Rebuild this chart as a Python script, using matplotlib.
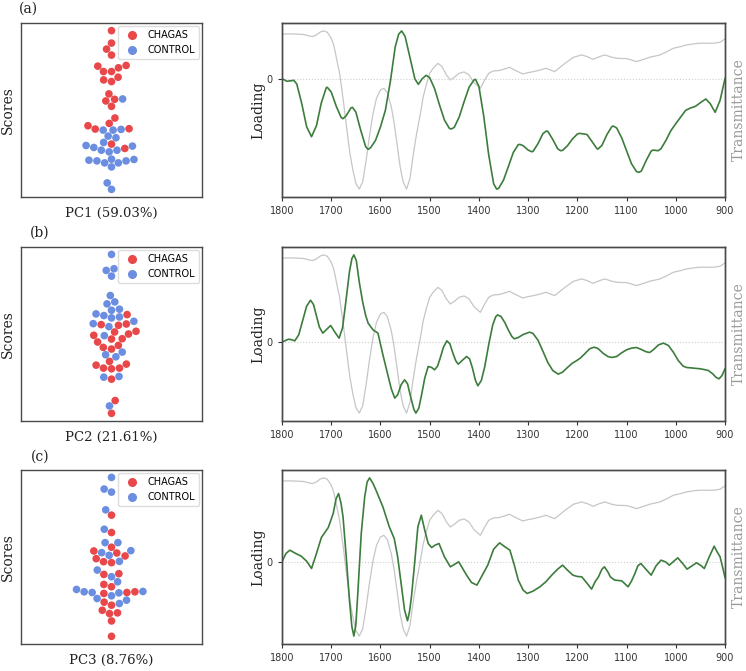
import numpy as np
import matplotlib
matplotlib.use("Agg")
import matplotlib.pyplot as plt
from matplotlib.lines import Line2D
import seaborn as sns

RED = "#e8484a"
BLUE = "#6b8ee0"
GREEN = "#3c7c3c"
GREY = "#c6c6c6"
SPINE = "#4a4a4a"
SERIF = "DejaVu Serif"

groups = ["CHAGAS", "CONTROL"]
pc_labels = ["PC1 (59.03%)", "PC2 (21.61%)", "PC3 (8.76%)"]
panel_tags = ["(a)", "(b)", "(c)"]
wn_ticks = [1800, 1700, 1600, 1500, 1400, 1300, 1200, 1100, 1000, 900]

# PCA scores (arbitrary units)
pc1_chagas = [9.12, 7.69, 7.0, 6.31, 5.12, 5.04, 4.85, 4.42, 4.42, 3.77, 3.46, 3.27,
              1.85, 1.23, 1.04, 0.42, -0.92, -1.54, -1.81, -2.15, -2.19, -3.92, -4.42]
pc1_control = [1.27, -2.23, -2.31, -2.31, -3.0, -3.19, -3.73, -4.08, -4.15, -4.31,
               -4.62, -4.62, -4.81, -5.65, -5.69, -5.77, -5.85, -5.85, -6.08, -6.08,
               -6.54, -8.38, -9.12]
pc2_chagas = [2.23, 1.15, 1.08, 1.0, 0.23, 0.31, 0.0, -0.15, -0.58, -0.54, -0.92,
              -1.54, -1.73, -1.31, -3.15, -3.58, -3.92, -4.0, -3.92, -3.46, -5.19,
              -7.65, -9.12]
pc2_control = [9.15, 7.31, 7.5, 6.65, 4.42, 3.46, 3.69, 2.73, 2.85, 1.96, 1.85, 2.12,
               2.31, 1.46, 0.85, 1.19, -0.19, -2.08, -2.38, -2.62, -4.96, -4.88, -8.27]
pc3_chagas = [4.81, 2.81, 1.12, 0.69, 0.46, -0.19, -0.54, 0.12, -0.65, -2.0, -1.92,
              -3.42, -3.15, -4.08, -4.19, -4.0, -5.54, -5.19, -6.5, -6.42, -6.12,
              -7.35, -9.12]
pc3_control = [9.15, 7.81, 7.46, 5.42, 3.19, 1.65, 1.65, 0.73, 0.5, 0.19, -0.5, -1.5,
               -2.27, -2.85, -3.96, -4.08, -4.0, -3.73, -4.46, -4.12, -4.96, -5.35,
               -4.77]
scores_chagas = [pc1_chagas, pc2_chagas, pc3_chagas]
scores_control = [pc1_control, pc2_control, pc3_control]

# mean spectrum (transmittance, arbitrary units)
trans = np.array([
    (1800, 4.98), (1780, 4.98), (1765, 4.97), (1755, 4.96), (1745, 4.92), (1738, 4.90),
    (1730, 4.95), (1722, 5.04), (1715, 5.07), (1708, 5.03), (1700, 4.85), (1695, 4.65),
    (1690, 4.30), (1683, 3.80), (1676, 3.05), (1669, 2.20), (1662, 1.40), (1656, 0.90),
    (1650, 0.50), (1643, 0.33), (1636, 0.55), (1629, 1.20), (1622, 1.95), (1615, 2.60),
    (1608, 3.05), (1600, 3.30), (1593, 3.35), (1586, 3.22), (1578, 2.80), (1572, 2.30),
    (1566, 1.65), (1560, 1.00), (1554, 0.55), (1547, 0.33), (1540, 0.65), (1534, 1.30),
    (1527, 1.95), (1520, 2.50), (1513, 3.10), (1507, 3.45), (1500, 3.80), (1493, 3.95),
    (1483, 4.10), (1475, 4.00), (1466, 3.75), (1458, 3.60), (1450, 3.68), (1440, 3.80),
    (1430, 3.84), (1420, 3.75), (1410, 3.52), (1397, 3.35), (1390, 3.55), (1380, 3.80),
    (1371, 3.87), (1360, 3.88), (1350, 3.92), (1338, 3.98), (1325, 3.88), (1311, 3.78),
    (1300, 3.82), (1289, 3.85), (1275, 3.90), (1264, 3.95), (1255, 3.90), (1246, 3.85),
    (1235, 3.98), (1225, 4.10), (1208, 4.28), (1191, 4.35), (1180, 4.30), (1168, 4.22),
    (1155, 4.30), (1144, 4.35), (1130, 4.28), (1120, 4.25), (1100, 4.24), (1090, 4.20),
    (1080, 4.15), (1065, 4.22), (1053, 4.28), (1032, 4.35), (1015, 4.47), (1005, 4.55),
    (990, 4.60), (978, 4.65), (960, 4.69), (951, 4.70), (923, 4.70), (910, 4.73),
    (900, 4.83)])

# PC loadings
load_pc1 = np.array([
    (1800, 0.00), (1790, -0.08), (1780, -0.06), (1776, -0.05), (1770, -0.16), (1760, -0.74),
    (1750, -1.44), (1740, -1.74), (1730, -1.41), (1720, -0.72), (1710, -0.27), (1708, -0.26),
    (1700, -0.40), (1690, -0.82), (1680, -1.16), (1676, -1.20), (1670, -1.12), (1660, -0.88),
    (1657, -0.86), (1650, -1.00), (1640, -1.55), (1630, -2.04), (1625, -2.12), (1620, -2.07),
    (1610, -1.85), (1600, -1.45), (1590, -0.95), (1580, -0.10), (1570, 0.95), (1563, 1.33),
    (1557, 1.43), (1550, 1.27), (1540, 0.63), (1530, -0.01), (1523, -0.17), (1515, 0.00),
    (1507, 0.10), (1500, 0.03), (1490, -0.30), (1480, -0.79), (1470, -1.24), (1460, -1.49),
    (1456, -1.51), (1450, -1.46), (1440, -1.15), (1430, -0.69), (1420, -0.26), (1410, -0.04),
    (1407, -0.02), (1400, -0.23), (1390, -1.14), (1380, -2.29), (1370, -3.15), (1364, -3.31),
    (1360, -3.29), (1350, -3.04), (1340, -2.63), (1330, -2.21), (1320, -1.98), (1317, -1.97),
    (1310, -2.01), (1300, -2.14), (1293, -2.19), (1290, -2.18), (1280, -1.95), (1270, -1.65),
    (1263, -1.57), (1260, -1.58), (1250, -1.82), (1240, -2.10), (1234, -2.16), (1230, -2.15),
    (1220, -2.01), (1210, -1.81), (1200, -1.66), (1195, -1.64), (1182, -1.67), (1180, -1.68),
    (1170, -1.89), (1160, -2.10), (1158, -2.11), (1150, -2.00), (1140, -1.68), (1130, -1.44),
    (1127, -1.42), (1120, -1.48), (1110, -1.77), (1100, -2.16), (1090, -2.55), (1080, -2.78),
    (1075, -2.81), (1070, -2.77), (1060, -2.45), (1050, -2.17), (1046, -2.14), (1036, -2.16),
    (1030, -2.10), (1020, -1.85), (1010, -1.56), (1000, -1.35), (990, -1.15), (980, -0.95),
    (970, -0.88), (960, -0.83), (950, -0.72), (939, -0.61), (930, -0.75), (920, -1.01),
    (910, -0.65), (900, 0.00)])

load_pc2 = np.array([
    (1800, 0.00), (1790, 0.07), (1786, 0.09), (1780, 0.07), (1774, 0.04), (1766, 0.22),
    (1758, 0.65), (1750, 1.08), (1742, 1.26), (1736, 1.13), (1730, 0.79), (1724, 0.45),
    (1717, 0.27), (1709, 0.39), (1701, 0.50), (1693, 0.31), (1684, 0.12), (1677, 0.43),
    (1670, 1.25), (1663, 2.11), (1658, 2.51), (1654, 2.62), (1649, 2.45), (1643, 1.80),
    (1636, 1.20), (1630, 0.80), (1625, 0.57), (1615, 0.37), (1605, 0.27), (1595, -0.38),
    (1585, -0.98), (1578, -1.40), (1571, -1.68), (1565, -1.58), (1558, -1.28), (1551, -1.13),
    (1545, -1.25), (1538, -1.68), (1532, -2.02), (1528, -2.13), (1522, -1.98), (1516, -1.55),
    (1510, -1.08), (1503, -0.73), (1496, -0.76), (1490, -0.83), (1484, -0.72), (1478, -0.45),
    (1472, -0.15), (1465, 0.04), (1459, -0.05), (1453, -0.32), (1447, -0.56), (1442, -0.66),
    (1434, -0.55), (1425, -0.43), (1419, -0.50), (1413, -0.78), (1407, -1.15), (1402, -1.31),
    (1395, -1.15), (1388, -0.73), (1380, -0.07), (1372, 0.51), (1366, 0.76), (1362, 0.82),
    (1355, 0.77), (1347, 0.58), (1340, 0.36), (1333, 0.17), (1328, 0.10), (1320, 0.14),
    (1310, 0.23), (1297, 0.30), (1290, 0.26), (1280, 0.06), (1270, -0.27), (1260, -0.61),
    (1250, -0.85), (1239, -0.96), (1230, -0.90), (1220, -0.76), (1210, -0.63), (1202, -0.56),
    (1194, -0.48), (1185, -0.35), (1175, -0.20), (1166, -0.15), (1158, -0.19), (1148, -0.33),
    (1138, -0.43), (1130, -0.46), (1120, -0.43), (1110, -0.32), (1100, -0.23), (1090, -0.18),
    (1080, -0.16), (1070, -0.22), (1060, -0.29), (1053, -0.31), (1045, -0.22), (1035, -0.08),
    (1025, -0.03), (1015, -0.10), (1005, -0.30), (995, -0.55), (985, -0.72), (978, -0.76),
    (964, -0.78), (950, -0.80), (940, -0.83), (934, -0.85), (925, -0.95), (918, -1.06),
    (912, -1.10), (906, -1.00), (900, -0.80)])

load_pc3 = np.array([
    (1800, 0.00), (1792, 0.25), (1784, 0.35), (1772, 0.25), (1761, 0.17), (1750, 0.02),
    (1740, -0.20), (1730, 0.25), (1720, 0.73), (1706, 1.03), (1696, 1.45), (1690, 1.90),
    (1685, 2.05), (1680, 1.75), (1676, 1.35), (1669, 0.05), (1663, -1.15), (1658, -1.95),
    (1654, -2.23), (1650, -1.90), (1646, -0.95), (1639, 0.85), (1632, 1.95), (1627, 2.40),
    (1622, 2.52), (1615, 2.35), (1609, 2.15), (1595, 1.65), (1582, 1.05), (1572, 0.70),
    (1565, 0.15), (1558, -0.65), (1551, -1.45), (1545, -1.77), (1541, -1.50), (1537, -1.05),
    (1530, 0.05), (1524, 1.05), (1517, 1.40), (1510, 0.95), (1503, 0.55), (1496, 0.43),
    (1489, 0.50), (1481, 0.55), (1470, 0.15), (1458, -0.15), (1450, -0.08), (1441, 0.00),
    (1433, -0.20), (1425, -0.40), (1415, -0.62), (1404, -0.70), (1393, -0.40), (1382, -0.10),
    (1370, 0.38), (1358, 0.57), (1347, 0.45), (1337, 0.35), (1328, -0.10), (1320, -0.55),
    (1310, -0.85), (1302, -0.95), (1290, -0.88), (1276, -0.75), (1264, -0.60), (1252, -0.40),
    (1240, -0.22), (1230, -0.10), (1220, -0.25), (1209, -0.40), (1200, -0.44), (1191, -0.45),
    (1180, -0.65), (1171, -0.82), (1164, -0.60), (1157, -0.45), (1150, -0.22), (1145, -0.15),
    (1138, -0.30), (1133, -0.45), (1124, -0.55), (1110, -0.57), (1104, -0.65), (1097, -0.75),
    (1090, -0.58), (1083, -0.35), (1077, -0.12), (1071, -0.05), (1065, -0.15), (1059, -0.25),
    (1050, -0.40), (1040, -0.12), (1030, 0.05), (1021, 0.00), (1013, -0.10), (1004, 0.02),
    (996, 0.12), (986, -0.05), (977, -0.22), (967, -0.12), (958, -0.03), (950, -0.10),
    (942, -0.20), (932, 0.15), (922, 0.47), (916, 0.30), (910, 0.15), (905, -0.15),
    (900, -0.47)])
loadings = [load_pc1, load_pc2, load_pc3]

W, H = 746, 671
fig = plt.figure(figsize=(W / 100, H / 100), dpi=100)
fig.patch.set_facecolor("white")


def px_axes(x0, y0, x1, y1):
    return fig.add_axes([x0 / W, 1 - y1 / H, (x1 - x0) / W, (y1 - y0) / H])


def style_spines(ax):
    for s in ax.spines.values():
        s.set_color(SPINE)
        s.set_linewidth(1.0)


tops = [23, 247, 470]
tag_pos = [(28, 9), (40, 233), (40, 457)]
palette = {"CHAGAS": RED, "CONTROL": BLUE}

for i, top in enumerate(tops):
    # --- swarm of scores ---
    sax = px_axes(21, top, 202, top + 174)
    vals = list(scores_chagas[i]) + list(scores_control[i])
    hue = ["CHAGAS"] * len(scores_chagas[i]) + ["CONTROL"] * len(scores_control[i])
    sns.swarmplot(x=["s"] * len(vals), y=vals, hue=hue, hue_order=groups, palette=palette,
                  size=5.5, linewidth=0, ax=sax, legend=False, warn_thresh=1)
    sax.set_xlim(-0.5, 0.5)
    sax.set_ylim(-10, 10)
    sax.set_xticks([])
    sax.set_yticks([])
    sax.set_xlabel(pc_labels[i], family=SERIF, fontsize=9.5, color="#222222")
    sax.set_ylabel("Scores", family=SERIF, fontsize=10, color="#222222")
    sax.xaxis.set_label_coords(0.5, -0.06)
    sax.yaxis.set_label_coords(-0.035, 0.5)
    style_spines(sax)
    handles = [Line2D([], [], marker="o", ls="", color=palette[g], markersize=5.5, label=g)
               for g in groups]
    sax.legend(handles=handles, loc="upper right", fontsize=7, borderaxespad=0.35,
               handletextpad=0.6, framealpha=1, edgecolor="#dddddd")

    fig.text(tag_pos[i][0] / W, 1 - tag_pos[i][1] / H, panel_tags[i], family=SERIF,
             fontsize=10, ha="center", va="center", color="#222222")

    # --- loading vs transmittance ---
    lax = px_axes(282, top, 725, top + 174)
    tax = lax.twinx()
    tax.plot(trans[:, 0], trans[:, 1], color=GREY, lw=0.9)
    tax.set_yticks([])
    tax.set_ylabel("Transmittance", family=SERIF, fontsize=10, color="#9a9a9a")
    tax.yaxis.set_label_coords(1.016, 0.5)

    lax.axhline(0, color="#cfcfcf", ls=":", lw=0.8)
    lax.plot(loadings[i][:, 0], loadings[i][:, 1], color=GREEN, lw=1.2)
    lax.set_zorder(tax.get_zorder() + 1)
    lax.patch.set_visible(False)
    lax.set_xlim(1800, 900)
    lax.set_xticks(wn_ticks)
    lax.set_yticks([0])
    lax.tick_params(labelsize=7, colors="#333333", length=3, width=0.8)
    lax.set_ylabel("Loading", family=SERIF, fontsize=10, color="#222222")
    lax.yaxis.set_label_coords(-0.038, 0.5)
    style_spines(lax)
    style_spines(tax)

fig.savefig("out.png", dpi=100, facecolor="white")
plt.close(fig)
